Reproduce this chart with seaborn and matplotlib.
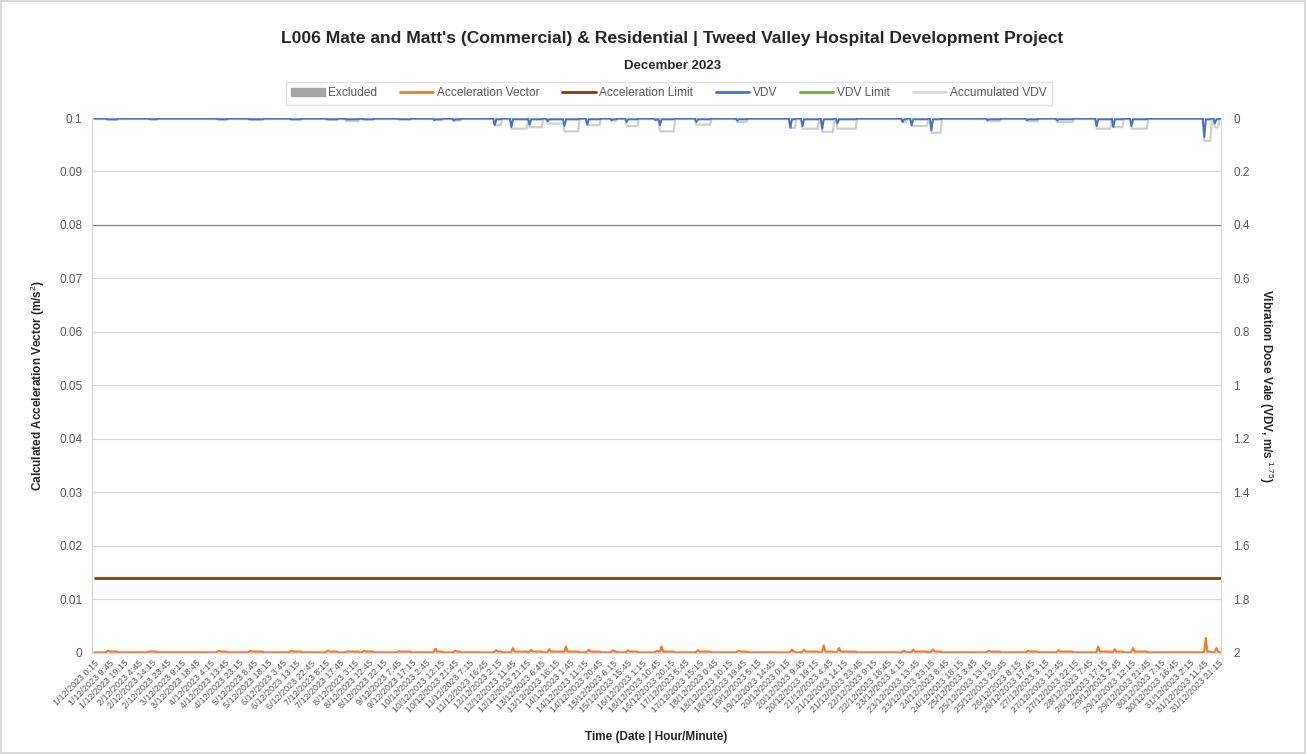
import numpy as np
import pandas as pd
import matplotlib.pyplot as plt
import seaborn as sns
from matplotlib.lines import Line2D
from matplotlib.patches import Patch

# Activity windows, hours after 1/12/2023 0:00
ev_start = [8, 36, 81, 102, 129, 153, 166, 177, 200, 224, 237, 264, 275, 287, 299,
            310, 325, 341, 351, 370, 373, 397, 424, 459, 467, 480, 490, 533, 539,
            552, 589, 615, 635, 661, 672, 684, 732, 739]
ev_end = [15, 41, 87, 111, 136, 160, 174, 184, 208, 229, 241, 268, 285, 295, 309,
          319, 333, 344, 358, 372, 382, 406, 430, 462, 477, 487, 502, 535, 549,
          558, 597, 622, 645, 670, 678, 694, 736, 741]
# peak acceleration vector (m/s2) in each window
ev_accel = [0.0004, 0.0003, 0.0004, 0.0004, 0.0004, 0.0004, 0.0003, 0.0004, 0.0003,
            0.0008, 0.0004, 0.0005, 0.0009, 0.0006, 0.0007, 0.0012, 0.0006, 0.0005,
            0.0005, 0.0004, 0.0012, 0.0005, 0.0004, 0.0006, 0.0006, 0.0014, 0.0009,
            0.0004, 0.0006, 0.0007, 0.0004, 0.0004, 0.0005, 0.0012, 0.0007, 0.0009,
            0.0028, 0.0009]
# peak VDV in each window
ev_vdv = [0.004, 0.003, 0.004, 0.004, 0.004, 0.004, 0.006, 0.004, 0.003, 0.008,
          0.010, 0.027, 0.034, 0.025, 0.012, 0.030, 0.025, 0.008, 0.015, 0.008,
          0.027, 0.015, 0.010, 0.037, 0.030, 0.040, 0.020, 0.015, 0.027, 0.046,
          0.008, 0.008, 0.010, 0.030, 0.034, 0.030, 0.071, 0.020]
# accumulated VDV held over each window
ev_accum = [0.006, 0.004, 0.005, 0.006, 0.005, 0.006, 0.011, 0.005, 0.004, 0.008,
            0.010, 0.027, 0.040, 0.034, 0.021, 0.050, 0.027, 0.010, 0.030, 0.008,
            0.050, 0.025, 0.015, 0.037, 0.040, 0.052, 0.040, 0.015, 0.030, 0.055,
            0.012, 0.012, 0.015, 0.040, 0.034, 0.040, 0.086, 0.035]

accel_base = 0.0001
accel_work = 0.00025
vdv_base = 0.002
vdv_work = 0.005
accum_base = 0.004
accel_limit = 0.014

hours = np.arange(0, 744)
accel = np.full(len(hours), accel_base)
vdv = np.full(len(hours), vdv_base)
accum = np.full(len(hours), accum_base)
for s, e, a, v, c in zip(ev_start, ev_end, ev_accel, ev_vdv, ev_accum):
    accel[s:e + 1] = accel_work
    accel[s + 1] = a
    vdv[s:e + 1] = vdv_work
    vdv[s] = v
    accum[s:e + 1] = c

df = pd.DataFrame({'hour': hours, 'accel': accel, 'vdv': vdv, 'accum': accum,
                   'limit': accel_limit})

# x tick labels every 9.5 hours from 1/12/2023 0:15
tick_times = pd.date_range('2023-12-01 00:15', periods=79, freq='570min')
tick_labels = [f"{t.day}/{t.month}/{t.year} {t.hour}:{t.minute:02d}" for t in tick_times]
tick_pos = [(t - pd.Timestamp('2023-12-01')).total_seconds() / 3600 for t in tick_times]

sns.set_style('white')
plt.rcParams['font.family'] = ['Liberation Sans', 'DejaVu Sans']
plt.rcParams['mathtext.fontset'] = 'custom'
plt.rcParams['mathtext.rm'] = 'Liberation Sans'
plt.rcParams['mathtext.bf'] = 'Liberation Sans:bold'

fig = plt.figure(figsize=(13.06, 7.54), dpi=100)
fig.patch.set_edgecolor('#d9d9d9')
fig.patch.set_linewidth(1.5)
ax = fig.add_axes([0.0704, 0.134, 0.8645, 0.7095])
ax2 = ax.twinx()

grey_txt = '#595959'
yt = [i / 100 for i in range(11)]
for y in yt:
    ax.axhline(y, color='#7f7f7f' if abs(y - 0.08) < 1e-9 else '#d9d9d9', lw=0.9, zorder=0)

sns.lineplot(data=df, x='hour', y='limit', ax=ax, color='#843c0c', lw=2, zorder=3)
sns.lineplot(data=df, x='hour', y='accel', ax=ax, color='#ed7d31', lw=1.6, zorder=4)
sns.lineplot(data=df, x='hour', y='accum', ax=ax2, color='#cfcfcf', lw=1.6, zorder=2)
sns.lineplot(data=df, x='hour', y='vdv', ax=ax2, color='#4472c4', lw=1.4, zorder=3)

ax.set_xlim(-1.7, 743)
ax.set_ylim(0, 0.1)
ax2.set_ylim(2, 0)
ax.set_yticks(yt)
ax.set_yticklabels(['0' if y == 0 else f"{y:g}" for y in yt], color=grey_txt, fontsize=8.5)
rt = [i / 5 for i in range(11)]
ax2.set_yticks(rt)
ax2.set_yticklabels([f"{v:g}" for v in rt], color=grey_txt, fontsize=8.5)
ax.set_xticks(tick_pos)
ax.set_xticklabels(tick_labels, rotation=45, ha='right', rotation_mode='anchor',
                   fontsize=6.5, color=grey_txt)
ax.tick_params(axis='both', length=0)
ax.tick_params(axis='y', pad=7)
ax.tick_params(axis='x', pad=4)
ax2.tick_params(axis='y', length=0, pad=9)

for a in (ax, ax2):
    a.spines['top'].set_visible(False)
    for side in ('left', 'right', 'bottom'):
        a.spines[side].set_color('#d9d9d9')
ax2.spines['left'].set_visible(False)

ax.set_xlabel('Time (Date | Hour/Minute)', fontsize=8.5, fontweight='bold')
ax.xaxis.set_label_coords(0.5, -0.146)
ax.set_ylabel('Calculated Acceleration Vector (m/s$^{2}$)', fontsize=8.5, fontweight='bold')
ax.yaxis.set_label_coords(-0.040, 0.5)
ax2.set_ylabel('Vibration Dose Vale (VDV, m/s $^{1.75}$)', fontsize=8.5,
               fontweight='bold', rotation=-90, va='bottom')
ax2.yaxis.set_label_coords(1.032, 0.5)

fig.text(0.515, 0.949, "L006 Mate and Matt's (Commercial) & Residential | Tweed Valley Hospital Development Project",
         ha='center', va='center', fontsize=12.6, fontweight='bold')
fig.text(0.515, 0.913, 'December 2023', ha='center', va='center', fontsize=9.5, fontweight='bold')

handles = [Patch(color='#a5a5a5'),
           Line2D([], [], color='#ed7d31', lw=2),
           Line2D([], [], color='#843c0c', lw=2),
           Line2D([], [], color='#4472c4', lw=2),
           Line2D([], [], color='#70ad47', lw=2),
           Line2D([], [], color='#d9d9d9', lw=2)]
labels = ['Excluded', 'Acceleration Vector', 'Acceleration Limit', 'VDV', 'VDV Limit',
          'Accumulated VDV']
leg = fig.legend(handles, labels, loc='center', bbox_to_anchor=(0.512, 0.876), ncol=6,
                 fontsize=8.6, frameon=True, fancybox=False, edgecolor='#d9d9d9',
                 handlelength=2.8, handleheight=0.6, columnspacing=1.9, handletextpad=0.3,
                 borderpad=0.45)
for t in leg.get_texts():
    t.set_color(grey_txt)

fig.savefig('out.png', dpi=100)
